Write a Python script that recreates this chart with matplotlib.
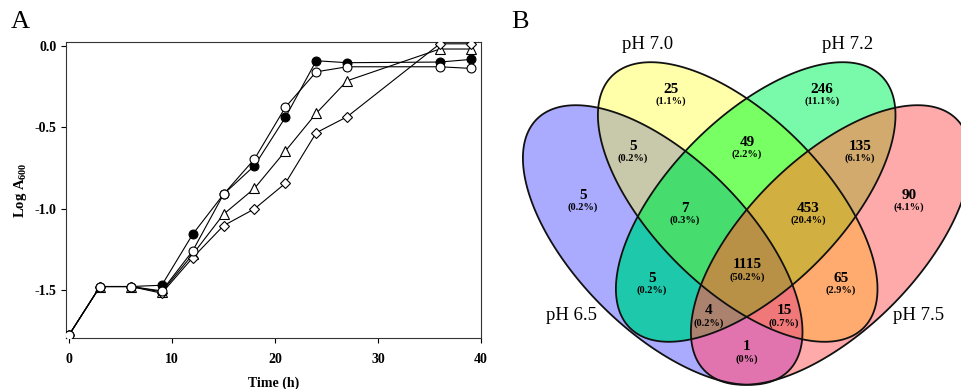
import numpy as np
import matplotlib
matplotlib.use("Agg")
import matplotlib.pyplot as plt
from matplotlib.patches import Polygon

# ---------------- data: panel A ----------------
time_h = [0, 3, 6, 9, 12, 15, 18, 21, 24, 27, 36, 39]
filled_circle = [-1.774, -1.477, -1.477, -1.469, -1.156, -0.910, -0.735, -0.438, -0.090, -0.102, -0.098, -0.082]
open_circle = [-1.774, -1.477, -1.477, -1.504, -1.258, -0.910, -0.694, -0.376, -0.158, -0.127, -0.127, -0.137]
open_triangle = [-1.774, -1.477, -1.477, -1.510, -1.280, -1.033, -0.874, -0.645, -0.413, -0.213, -0.018, -0.018]
open_diamond = [-1.774, -1.477, -1.477, -1.518, -1.300, -1.103, -1.000, -0.843, -0.532, -0.434, 0.014, 0.014]
x_ticks = [0, 10, 20, 30, 40]
y_ticks = [0.0, -0.5, -1.0, -1.5]

# ---------------- data: panel B (Venn) ----------------
set_names = ["pH 6.5", "pH 7.0", "pH 7.2", "pH 7.5"]
region_keys = ["A", "B", "C", "D", "AB", "AC", "AD", "BC", "BD", "CD",
               "ABC", "ABD", "ACD", "BCD", "ABCD"]
region_counts = [5, 25, 246, 90, 5, 5, 1, 49, 65, 135, 7, 15, 4, 453, 1115]
region_pcts = ["0.2%", "1.1%", "11.1%", "4.1%", "0.2%", "0.2%", "0%", "2.2%", "2.9%", "6.1%",
               "0.3%", "0.7%", "0.2%", "20.4%", "50.2%"]
region_colors = ["#AAAAFF", "#FFFFAA", "#78FAAA", "#FFAAAA", "#C8C8AA", "#1EC8AA", "#E173AF",
                 "#78FF64", "#FFAA6E", "#D2AA6E", "#46DC6E", "#F07878", "#AA826E", "#D2AF41", "#B99146"]

SERIF = ["Liberation Serif", "DejaVu Serif"]
plt.rcParams["font.family"] = SERIF
plt.rcParams["mathtext.fontset"] = "custom"
plt.rcParams["mathtext.rm"] = "Liberation Serif"
plt.rcParams["mathtext.bf"] = "Liberation Serif:bold"

fig = plt.figure(figsize=(9.61, 3.89), dpi=100)

# ---------------- panel A ----------------
W, H = 961.0, 389.0
axA = fig.add_axes([65.7 / W, 1 - 338.3 / H, (481 - 65.7) / W, (338.3 - 41.7) / H])
common = dict(color="black", lw=0.8, markeredgecolor="black", markeredgewidth=0.8)
axA.plot(time_h, open_triangle, marker="^", ms=6.8, markerfacecolor="white", **common, zorder=3)
axA.plot(time_h, open_diamond, marker="D", ms=5.4, markerfacecolor="white", **common, zorder=4)
axA.plot(time_h, filled_circle, marker="o", ms=6.4, markerfacecolor="black", **common, zorder=5)
axA.plot(time_h, open_circle, marker="o", ms=6.4, markerfacecolor="white", **common, zorder=6)
axA.set_xlim(-0.33, 40)
axA.set_ylim(-1.795, 0.027)
axA.set_xticks(x_ticks)
axA.set_yticks(y_ticks)
axA.set_xticklabels([str(t) for t in x_ticks], fontsize=10, fontweight="bold")
axA.set_yticklabels([f"{t:.1f}" for t in y_ticks], fontsize=10, fontweight="bold")
axA.tick_params(direction="out", length=3.5, width=0.8)
axA.tick_params(axis="x", pad=7)
axA.tick_params(axis="y", pad=3)
for s in axA.spines.values():
    s.set_linewidth(0.8)
    s.set_color("#333333")
axA.set_xlabel("Time (h)", fontsize=10, fontweight="bold", labelpad=8)
axA.set_ylabel(r"Log A$_{\mathbf{600}}$", fontsize=10.5, fontweight="bold", labelpad=4)
fig.text(11 / W, 1 - 22 / H, "A", fontsize=19, ha="left", va="center")
fig.text(511 / W, 1 - 22 / H, "B", fontsize=19, ha="left", va="center")

# ---------------- panel B ----------------
axB = fig.add_axes([0, 0, 1, 1], zorder=-1)
axB.set_xlim(0, W)
axB.set_ylim(H, 0)
axB.axis("off")

ea, eb = 178.0, 86.0
ellipses = {
    "A": (662.7, 245.0, 45.0),
    "B": (737.7, 202.0, 45.0),
    "C": (755.7, 202.0, 135.0),
    "D": (830.7, 245.0, 135.0),
}


def ellipse_poly(cx, cy, ang, n=720):
    t = np.linspace(0, 2 * np.pi, n, endpoint=False)
    th = np.deg2rad(ang)
    x = cx + ea * np.cos(t) * np.cos(th) - eb * np.sin(t) * np.sin(th)
    y = cy + ea * np.cos(t) * np.sin(th) + eb * np.sin(t) * np.cos(th)
    return np.column_stack([x, y])


def _inter(p1, p2, a, b):
    x1, y1 = p1; x2, y2 = p2; x3, y3 = a; x4, y4 = b
    den = (x1 - x2) * (y3 - y4) - (y1 - y2) * (x3 - x4)
    t = ((x1 - x3) * (y3 - y4) - (y1 - y3) * (x3 - x4)) / den
    return np.array([x1 + t * (x2 - x1), y1 + t * (y2 - y1)])


def clip(subject, clipper):
    # Sutherland-Hodgman polygon clipping against a convex clipper
    def side(p, a, b):
        return (b[0] - a[0]) * (p[1] - a[1]) - (b[1] - a[1]) * (p[0] - a[0])
    area = np.sum(clipper[:, 0] * np.roll(clipper[:, 1], -1) - np.roll(clipper[:, 0], -1) * clipper[:, 1])
    sign = 1 if area > 0 else -1
    out = list(subject)
    m = len(clipper)
    for i in range(m):
        a, b = clipper[i], clipper[(i + 1) % m]
        inp = out
        out = []
        if not inp:
            break
        prev = inp[-1]
        for cur in inp:
            cin = sign * side(cur, a, b) >= 0
            pin = sign * side(prev, a, b) >= 0
            if cin:
                if not pin:
                    out.append(_inter(prev, cur, a, b))
                out.append(cur)
            elif pin:
                out.append(_inter(prev, cur, a, b))
            prev = cur
    return np.array(out)


polys = {k: ellipse_poly(*v) for k, v in ellipses.items()}
order = sorted(range(len(region_keys)), key=lambda i: len(region_keys[i]))
for i in order:
    key = region_keys[i]
    shape = polys[key[0]]
    for k in key[1:]:
        shape = clip(shape, polys[k])
    if len(shape) >= 3:
        axB.add_patch(Polygon(shape, closed=True, facecolor=region_colors[i],
                              edgecolor="none", zorder=1 + len(key)))
for k in "ABCD":
    axB.add_patch(Polygon(polys[k], closed=True, facecolor="none",
                          edgecolor="#111111", lw=1.3, zorder=10))

label_pos = {
    "A": (583, 195), "B": (671, 89), "C": (822, 89), "D": (909, 195),
    "AB": (633, 146), "AC": (652, 278), "AD": (747, 347), "BC": (747, 142),
    "BD": (841, 278), "CD": (860, 146), "ABC": (685, 208), "ABD": (784, 311),
    "ACD": (709, 311), "BCD": (808, 208), "ABCD": (747, 265),
}
for key, cnt, pct in zip(region_keys, region_counts, region_pcts):
    x, y = label_pos[key]
    axB.text(x, y, str(cnt), fontsize=11, fontweight="bold", ha="center", va="center", zorder=12)
    axB.text(x, y + 12, f"({pct})", fontsize=7.5, fontweight="bold", ha="center", va="center", zorder=12)

name_pos = [(571, 315), (648, 44), (848, 44), (919, 315)]
for name, (x, y) in zip(set_names, name_pos):
    axB.text(x, y, name, fontsize=13.5, ha="center", va="center", zorder=12)

fig.savefig("out.png", dpi=100)
